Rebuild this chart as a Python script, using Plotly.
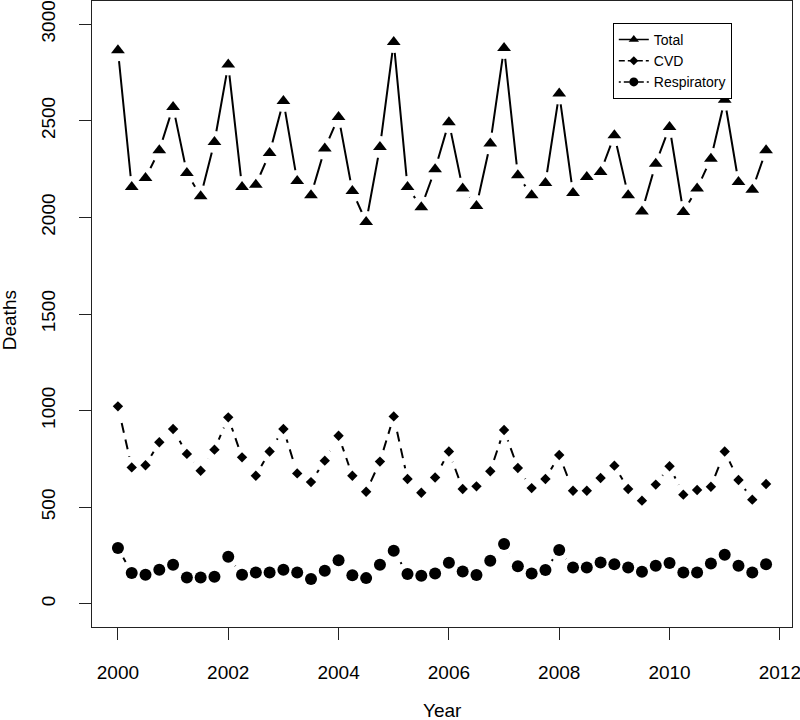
import plotly.graph_objects as go

years = list(range(2000, 2012))
quarters = [0.0, 0.25, 0.5, 0.75]
time = [y + q for y in years for q in quarters]

total = [2865, 2157, 2204, 2347, 2572, 2230, 2110, 2390, 2791, 2157,
         2169, 2333, 2603, 2188, 2114, 2356, 2520, 2136, 1976, 2364,
         2908, 2157, 2053, 2249, 2493, 2149, 2059, 2382, 2877, 2218,
         2114, 2178, 2641, 2126, 2209, 2235, 2425, 2114, 2031, 2278,
         2468, 2028, 2149, 2304, 2609, 2183, 2143, 2347]
cvd = [1022, 706, 717, 836, 905, 776, 689, 798, 965, 758,
       663, 788, 905, 675, 630, 741, 870, 663, 580, 736,
       970, 646, 575, 654, 788, 594, 608, 686, 900, 703,
       599, 646, 770, 585, 585, 651, 715, 594, 534, 617,
       712, 565, 589, 606, 788, 641, 539, 620]
resp = [289, 159, 150, 176, 202, 136, 136, 140, 244, 150,
        162, 162, 176, 162, 128, 171, 226, 148, 133, 202,
        275, 154, 145, 157, 213, 167, 149, 223, 309, 195,
        157, 175, 278, 188, 188, 214, 205, 188, 166, 197,
        211, 162, 162, 209, 254, 197, 162, 205]

series_names = ["Total", "CVD", "Respiratory"]
x_ticks = [2000, 2002, 2004, 2006, 2008, 2010, 2012]
y_ticks = [0, 500, 1000, 1500, 2000, 2500, 3000]

FONT = "Liberation Sans, Arial, sans-serif"

styles = [
    dict(data=total, dash="solid", symbol="triangle-up", size=12, lsize=9,
         ldash="solid"),
    dict(data=cvd, dash="10px,7px", symbol="diamond", size=8, lsize=7,
         ldash="6px,3px"),
    dict(data=resp, dash="2px,5px,9px,5px", symbol="circle", size=12, lsize=9,
         ldash="2px,3px,6px,3px"),
]

fig = go.Figure()
for name, st in zip(series_names, styles):
    # line with white halos (R type="b" gaps)
    fig.add_trace(go.Scatter(
        x=time, y=st["data"], mode="lines+markers", showlegend=False,
        line=dict(color="black", width=2, dash=st["dash"]),
        marker=dict(symbol="circle", size=22, color="white", line=dict(width=0)),
        hoverinfo="skip"))
    # black point markers
    fig.add_trace(go.Scatter(
        x=time, y=st["data"], mode="markers", showlegend=False, name=name,
        marker=dict(symbol=st["symbol"], size=st["size"], color="black",
                    line=dict(width=0))))
    # legend entry
    fig.add_trace(go.Scatter(
        x=[None], y=[None], mode="lines+markers", name=name,
        line=dict(color="black", width=1.5, dash=st["ldash"]),
        marker=dict(symbol=st["symbol"], size=st["lsize"], color="black")))

axis_common = dict(
    ticks="outside", ticklen=12, tickwidth=1, tickcolor="#222",
    showline=True, linecolor="#222", linewidth=1, mirror=True,
    showgrid=False, zeroline=False, ticklabelstandoff=16, automargin=False,
    ticklabeloverflow="allow",
    tickfont=dict(family=FONT, size=19, color="black"))

fig.update_layout(
    width=800, height=720,
    margin=dict(l=92, r=8, t=1, b=93),
    paper_bgcolor="white", plot_bgcolor="white",
    font=dict(family=FONT, size=19, color="black"),
    showlegend=True,
    legend=dict(x=0.744, y=0.965, xanchor="left", yanchor="top",
                bordercolor="black", borderwidth=1, bgcolor="white",
                font=dict(family=FONT, size=14, color="black"),
                itemsizing="trace", tracegroupgap=0),
    xaxis=dict(range=[1999.53, 2012.22], tickvals=x_ticks, **axis_common),
    yaxis=dict(range=[-120, 3120], tickvals=y_ticks, tickangle=-90,
               **axis_common),
    annotations=[
        dict(text="Year", xref="paper", yref="paper", x=0.5, y=-0.1326,
             showarrow=False, xanchor="center", yanchor="middle",
             font=dict(family=FONT, size=19, color="black")),
        dict(text="Deaths", xref="paper", yref="paper", x=-0.1186, y=0.49,
             showarrow=False, textangle=-90, xanchor="center", yanchor="middle",
             font=dict(family=FONT, size=19, color="black")),
    ],
)

fig.write_html(
    "out.html",
    config={"displayModeBar": False},
    post_script="document.body.style.margin='0px';"
                "document.body.style.overflow='hidden';")
